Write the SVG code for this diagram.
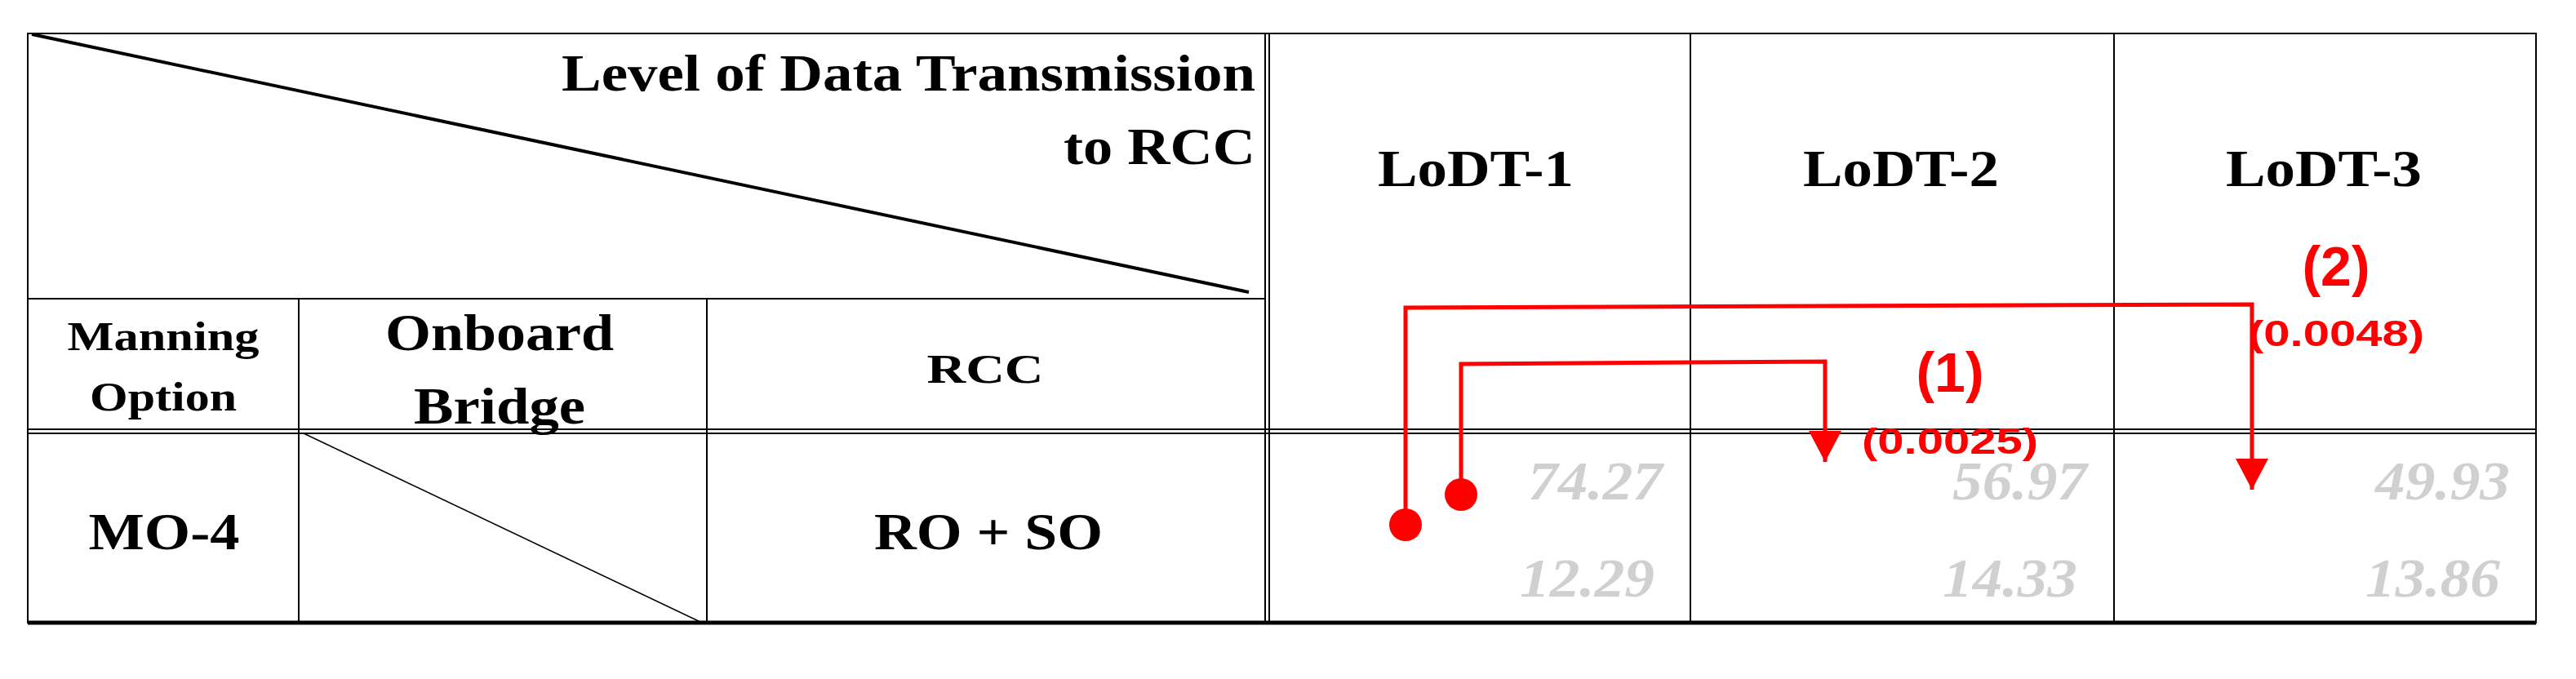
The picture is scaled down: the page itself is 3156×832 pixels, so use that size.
<svg xmlns="http://www.w3.org/2000/svg" width="3156" height="832" viewBox="0 0 3156 832">
<style>
.g{stroke:#000;fill:none}
.t{font-family:"Liberation Serif",serif;font-weight:bold;fill:#000;text-anchor:middle}
.n{font-family:"Liberation Serif",serif;font-weight:bold;font-style:italic;fill:#d0d0d0;text-anchor:end;font-size:68px}
.r{font-family:"Liberation Sans",sans-serif;font-weight:bold;fill:#f00;text-anchor:middle}
.c{stroke:#f00;stroke-width:5;fill:none}
</style>
<defs><marker id="ah" markerWidth="10" markerHeight="10" refX="5" refY="9" orient="auto" markerUnits="userSpaceOnUse" viewBox="0 0 10 10"><path d="M0,0 L10,0 L5,10 Z" fill="#f00"/></marker>
<marker id="a" viewBox="0 0 40 38" markerWidth="40" markerHeight="38" refX="20" refY="38" orient="0" markerUnits="userSpaceOnUse"><path d="M0,0 L40,0 L20,38 Z" fill="#f00"/></marker></defs>
<g id="table">
<rect x="34" y="41" width="3073" height="722" class="g" stroke-width="2"/>
<line x1="34" y1="763" x2="3107" y2="763" class="g" stroke-width="5"/>
<line x1="34" y1="366" x2="1550" y2="366" class="g" stroke-width="2"/>
<line x1="34" y1="526" x2="3107" y2="526" class="g" stroke-width="2"/>
<line x1="34" y1="531" x2="3107" y2="531" class="g" stroke-width="2"/>
<line x1="1550" y1="41" x2="1550" y2="763" class="g" stroke-width="2"/>
<line x1="1555" y1="41" x2="1555" y2="763" class="g" stroke-width="2"/>
<line x1="366" y1="366" x2="366" y2="763" class="g" stroke-width="2"/>
<line x1="866" y1="366" x2="866" y2="763" class="g" stroke-width="2"/>
<line x1="2071" y1="41" x2="2071" y2="763" class="g" stroke-width="2"/>
<line x1="2590" y1="41" x2="2590" y2="763" class="g" stroke-width="2"/>
<line x1="39" y1="42" x2="1530" y2="358" class="g" stroke-width="4"/>
<line x1="372" y1="531" x2="860" y2="763" class="g" stroke-width="1.5"/>
</g>
<g id="headers">
<text x="1538" y="111" class="t" style="text-anchor:end" font-size="64" textLength="850" lengthAdjust="spacingAndGlyphs">Level of Data Transmission</text>
<text x="1538" y="201" class="t" style="text-anchor:end" font-size="64" textLength="235" lengthAdjust="spacingAndGlyphs">to RCC</text>
<text x="1808" y="228" class="t" font-size="64" textLength="240" lengthAdjust="spacingAndGlyphs">LoDT-1</text>
<text x="2329" y="228" class="t" font-size="64" textLength="240" lengthAdjust="spacingAndGlyphs">LoDT-2</text>
<text x="2847" y="228" class="t" font-size="64" textLength="240" lengthAdjust="spacingAndGlyphs">LoDT-3</text>
<text x="200" y="429" class="t" font-size="50" textLength="235" lengthAdjust="spacingAndGlyphs">Manning</text>
<text x="200" y="503" class="t" font-size="50" textLength="180" lengthAdjust="spacingAndGlyphs">Option</text>
<text x="612" y="429" class="t" font-size="64" textLength="280" lengthAdjust="spacingAndGlyphs">Onboard</text>
<text x="612" y="519" class="t" font-size="64" textLength="210" lengthAdjust="spacingAndGlyphs">Bridge</text>
<text x="1207" y="469" class="t" font-size="50" textLength="143" lengthAdjust="spacingAndGlyphs">RCC</text>
</g>
<g id="row">
<text x="201" y="673" class="t" font-size="64" textLength="185" lengthAdjust="spacingAndGlyphs">MO-4</text>
<text x="1211" y="673" class="t" font-size="64" textLength="280" lengthAdjust="spacingAndGlyphs">RO + SO</text>
<text x="2037" y="612" class="n" textLength="165" lengthAdjust="spacingAndGlyphs">74.27</text>
<text x="2027" y="731" class="n" textLength="165" lengthAdjust="spacingAndGlyphs">12.29</text>
<text x="2557" y="612" class="n" textLength="165" lengthAdjust="spacingAndGlyphs">56.97</text>
<text x="2545" y="731" class="n" textLength="165" lengthAdjust="spacingAndGlyphs">14.33</text>
<text x="3075" y="612" class="n" textLength="165" lengthAdjust="spacingAndGlyphs">49.93</text>
<text x="3063" y="731" class="n" textLength="165" lengthAdjust="spacingAndGlyphs">13.86</text>
</g>
<g id="connectors">
<path class="c" d="M1722,643 V377 L2759,373 V600" marker-end="url(#a)"/>
<circle cx="1722" cy="643" r="20" fill="#f00"/>
<path class="c" d="M1790,606 V446 L2236,443 V566" marker-end="url(#a)"/>
<circle cx="1790" cy="606" r="20" fill="#f00"/>
</g>
<g id="labels">
<text x="2862" y="350" class="r" font-size="68">(2)</text>
<text x="2862" y="424" class="r" font-size="44" textLength="216" lengthAdjust="spacingAndGlyphs">(0.0048)</text>
<text x="2389" y="480" class="r" font-size="68">(1)</text>
<text x="2389" y="556" class="r" font-size="44" textLength="216" lengthAdjust="spacingAndGlyphs">(0.0025)</text>
</g>
</svg>
